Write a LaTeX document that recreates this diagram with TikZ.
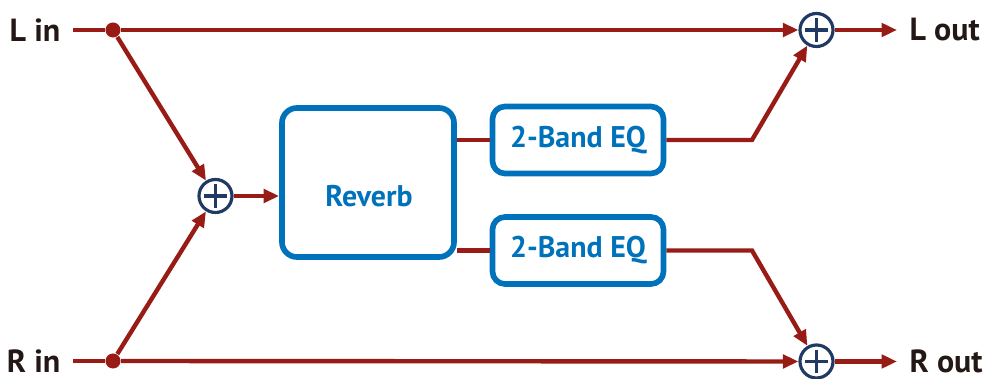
\documentclass[tikz,border=0pt]{standalone}
\usepackage{fontspec}
\setmainfont{PT Sans}
\usetikzlibrary{arrows.meta}
\definecolor{sigred}{RGB}{152,27,22}
\definecolor{boxblue}{RGB}{0,114,188}
\definecolor{sumblue}{RGB}{33,58,100}
\definecolor{labelblack}{RGB}{35,24,21}

\begin{document}
\begin{tikzpicture}[x=0.01cm,y=-0.01cm,
    wire/.style={draw=sigred,line width=1.25pt},
    sig/.style={wire,-{Triangle[length=4.4pt,width=3.8pt]}},
    dsp/.style={draw=boxblue,line width=1.6pt,fill=white,text=boxblue,
        font=\fontsize{8.5}{10}\selectfont\bfseries,inner sep=0pt},
    sum/.style={circle,draw=sumblue,line width=0.9pt,fill=white,minimum size=0.33cm,inner sep=0pt,
        path picture={\draw[sumblue,line width=0.9pt]
            ([xshift=-0.115cm]path picture bounding box.center) -- ([xshift=0.115cm]path picture bounding box.center)
            ([yshift=-0.115cm]path picture bounding box.center) -- ([yshift=0.115cm]path picture bounding box.center);}},
    dot/.style={circle,fill=sigred,minimum size=0.15cm,inner sep=0pt},
    io/.style={text=labelblack,font=\fontsize{9.1}{11}\selectfont\bfseries,inner sep=3.4pt}]
    \useasboundingbox (0,0) rectangle (987,379);

    \node [io, anchor=east] (lin) at (73,30) {L in};
    \node [io, anchor=east] (rin) at (73,361) {R in};
    \node [dot] (ldot) at (113,30) {};
    \node [dot] (rdot) at (113,361) {};

    \node [sum] (summ) at (215.5,196) {};
    \node [sum] (suml) at (816.5,30) {};
    \node [sum] (sumr) at (816.5,361.5) {};

    \node [dsp, rounded corners=4.3pt, minimum width=1.72cm, minimum height=1.49cm] (reverb) at (368,182.5) {};
    \node [text=boxblue, font=\fontsize{8.5}{10}\selectfont\bfseries] (reverbtxt) at (369,196) {Reverb};
    \node [dsp, rounded corners=3.6pt, minimum width=1.71cm, minimum height=0.67cm] (eqa) at (578,140) {2-Band EQ};
    \node [dsp, rounded corners=3.6pt, minimum width=1.71cm, minimum height=0.67cm] (eqb) at (578,250.5) {2-Band EQ};

    \node [io, anchor=west] (lout) at (897,30) {L out};
    \node [io, anchor=west] (rout) at (897,361.5) {R out};

    \coordinate (bendl) at (752,140);
    \coordinate (bendr) at (752,250.5);

    \draw [wire] (lin) -- (ldot);
    \draw [wire] (rin) -- (rdot);
    \draw [sig] (ldot) -- (suml);
    \draw [sig] (rdot) -- (sumr);
    \draw [sig] (ldot) -- (summ);
    \draw [sig] (rdot) -- (summ);
    \draw [sig] (summ) -- (summ -| reverb.west);

    \draw [wire] (reverb.east |- eqa) -- (eqa);
    \draw [wire] (reverb.east |- eqb) -- (eqb);
    \draw [sig] (eqa) -- (bendl) -- (suml);
    \draw [sig] (eqb) -- (bendr) -- (sumr);

    \draw [sig] (suml) -- (lout);
    \draw [sig] (sumr) -- (rout);
\end{tikzpicture}
\end{document}
